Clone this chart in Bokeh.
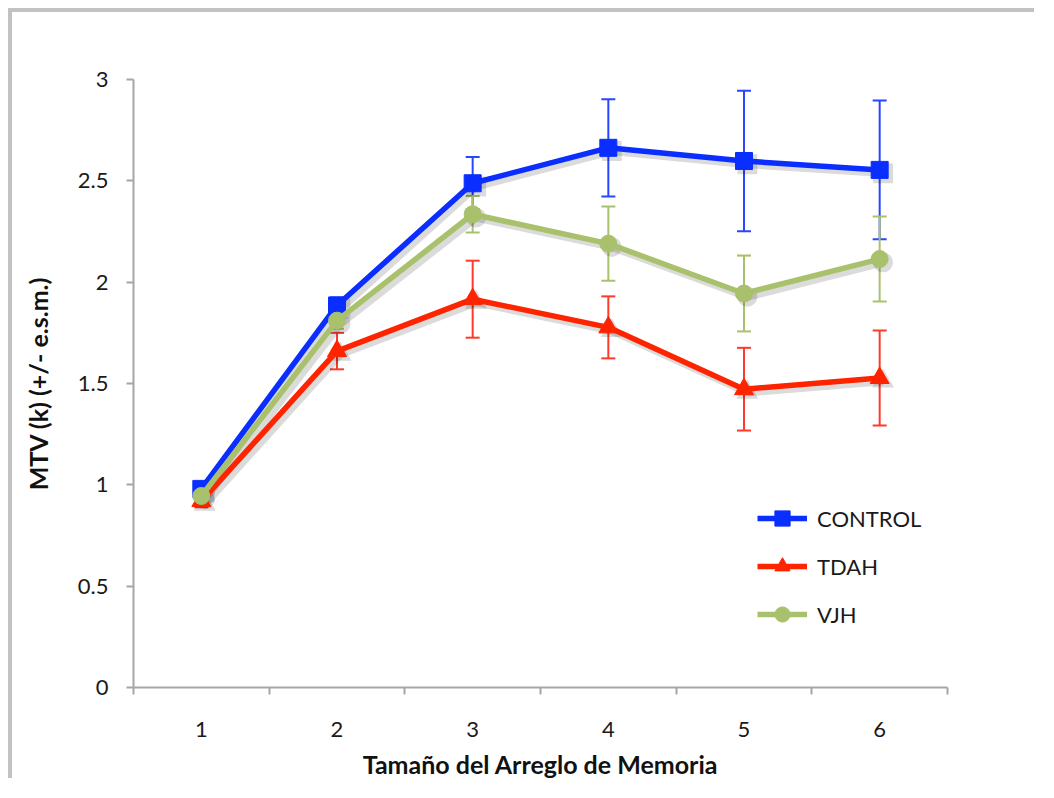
from bokeh.plotting import figure
from bokeh.models import (ColumnDataSource, Whisker, TeeHead, FixedTicker, Legend, LegendItem,
                          Range1d)
from bokeh.transform import dodge
from bokeh.embed import file_html
from bokeh.resources import INLINE

# ---- data ----
sizes = [1, 2, 3, 4, 5, 6]
x_tick_labels = ["1", "2", "3", "4", "5", "6"]
y_ticks = [0, 0.5, 1, 1.5, 2, 2.5, 3]

control = [0.98, 1.885, 2.488, 2.663, 2.598, 2.554]
control_err = [0.03, 0.04, 0.13, 0.24, 0.347, 0.342]
tdah = [0.92, 1.66, 1.916, 1.777, 1.472, 1.527]
tdah_err = [0.03, 0.09, 0.19, 0.153, 0.204, 0.234]
vjh = [0.945, 1.81, 2.335, 2.19, 1.944, 2.114]
vjh_err = [0.03, 0.04, 0.09, 0.183, 0.187, 0.21]

series = [
    ("CONTROL", control, control_err, "#0a2eff", "#2846ff", "square", 17),
    ("TDAH", tdah, tdah_err, "#ff2400", "#ff3a2a", "triangle", 19),
    ("VJH", vjh, vjh_err, "#a9c16c", "#a9c16c", "circle", 17),
]

FONT = "Lato"

p = figure(width=1026, height=770, output_backend="svg", toolbar_location=None,
           x_range=Range1d(0.5, 6.5), y_range=Range1d(0, 3),
           min_border_left=121, min_border_right=91, min_border_top=67, min_border_bottom=95)
# outer frame: only its left and top edges fall inside the picture, as in the reference
p.styles = {"margin-left": "8px", "margin-top": "8px",
            "border-left": "4px solid #c2c2c2", "border-top": "4px solid #c2c2c2"}
p.outline_line_color = None
p.grid.visible = False
p.background_fill_color = "white"
p.border_fill_color = "white"

# axes
xa = p.xaxis[0]
xa.ticker = FixedTicker(ticks=sizes, minor_ticks=[s - 0.5 for s in sizes] + [6.5])
xa.major_label_overrides = {s: l for s, l in zip(sizes, x_tick_labels)}
xa.major_tick_out = 0
xa.major_tick_in = 0
xa.minor_tick_out = 7
xa.minor_tick_in = 0
xa.minor_tick_line_color = "#a6a6a6"
xa.minor_tick_line_width = 2
xa.axis_line_color = "#a6a6a6"
xa.axis_line_width = 2
xa.major_label_standoff = 27
xa.major_label_text_font = FONT
xa.major_label_text_font_size = "22px"
xa.major_label_text_color = "#1a1a1a"
xa.axis_label = "Tamaño del Arreglo de Memoria"
xa.axis_label_text_font = FONT
xa.axis_label_text_font_style = "bold"
xa.axis_label_text_font_size = "25px"
xa.axis_label_text_color = "#111111"
xa.axis_label_standoff = 9

ya = p.yaxis[0]
ya.ticker = FixedTicker(ticks=y_ticks, minor_ticks=[])
ya.major_label_overrides = {0: "0", 1: "1", 2: "2", 3: "3"}
ya.major_tick_out = 7
ya.major_tick_in = 0
ya.major_tick_line_color = "#a6a6a6"
ya.major_tick_line_width = 2
ya.minor_tick_out = 0
ya.axis_line_color = "#a6a6a6"
ya.axis_line_width = 2
ya.major_label_standoff = 18
ya.major_label_text_font = FONT
ya.major_label_text_font_size = "22px"
ya.major_label_text_color = "#1a1a1a"
ya.axis_label = "MTV (k) (+/- e.s.m.)"
ya.axis_label_text_font = FONT
ya.axis_label_text_font_style = "bold"
ya.axis_label_text_font_size = "25px"
ya.axis_label_text_color = "#111111"
ya.axis_label_standoff = 22

sources = []
for name, vals, errs, col, ecol, marker, msize in series:
    src = ColumnDataSource(dict(
        x=sizes, y=vals,
        upper=[v + e for v, e in zip(vals, errs)],
        lower=[v - e for v, e in zip(vals, errs)],
    ))
    sources.append(src)

# soft shadows
for src, (name, vals, errs, col, ecol, marker, msize) in zip(sources, series):
    p.line(x=dodge("x", 0.025, range=p.x_range), y=dodge("y", -0.016, range=p.y_range),
           source=src, line_color="black", line_alpha=0.14, line_width=8)
    p.scatter(x=dodge("x", 0.025, range=p.x_range), y=dodge("y", -0.016, range=p.y_range),
              source=src, marker=marker, size=msize + 3, fill_color="black", fill_alpha=0.14,
              line_color=None)

# error bars
for src, (name, vals, errs, col, ecol, marker, msize) in zip(sources, series):
    w = Whisker(base="x", upper="upper", lower="lower", source=src,
                line_color=ecol, line_width=2,
                upper_head=TeeHead(size=14, line_color=ecol, line_width=2),
                lower_head=TeeHead(size=14, line_color=ecol, line_width=2))
    p.add_layout(w)

items = []
for src, (name, vals, errs, col, ecol, marker, msize) in zip(sources, series):
    lr = p.line("x", "y", source=src, line_color=col, line_width=5.5)
    sr = p.scatter("x", "y", source=src, marker=marker, size=msize, fill_color=col, line_color=col)
    items.append(LegendItem(label=name, renderers=[lr, sr]))

legend = Legend(items=items, location=(624, 54), orientation="vertical",
                glyph_width=50, glyph_height=38, spacing=10, padding=0, margin=0,
                label_standoff=10, label_text_font=FONT, label_text_font_size="22px",
                label_text_color="#1a1a1a", border_line_color=None,
                background_fill_alpha=0, label_height=38)
p.add_layout(legend, "center")

open("out.html", "w").write(file_html(p, INLINE))
